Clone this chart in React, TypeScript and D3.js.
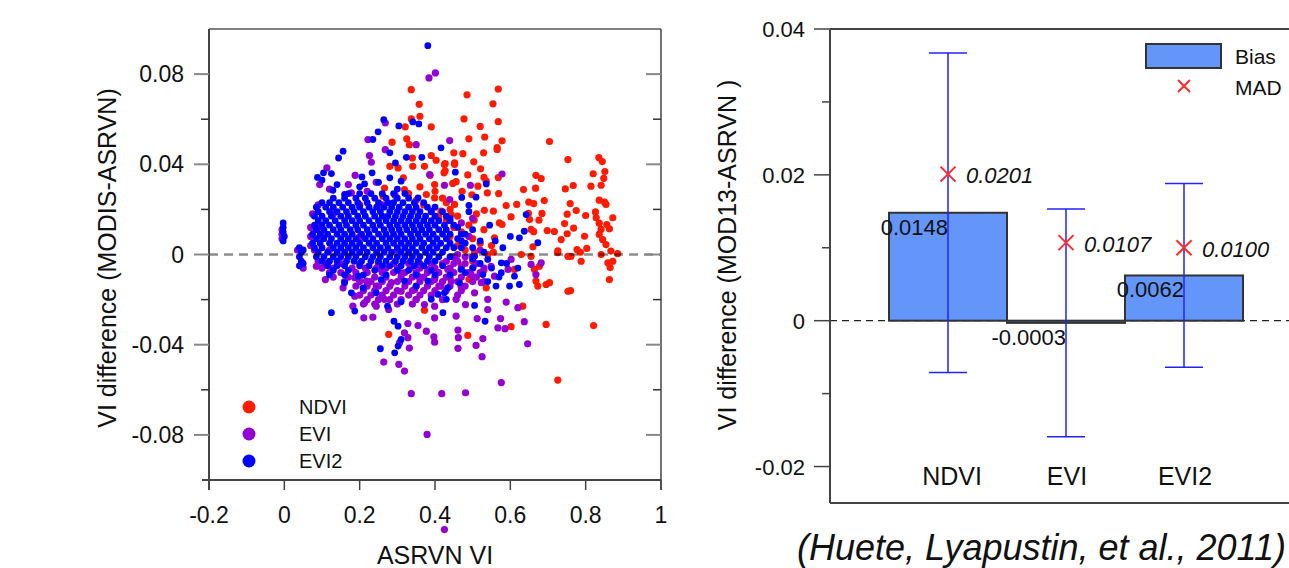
import React from 'react'
import * as d3 from 'd3'

// ---- scatter data (ASRVN VI vs MODIS-ASRVN difference) ----
const scatterXTicks = [-0.2, 0, 0.2, 0.4, 0.6, 0.8, 1]
const scatterXLabels = ['-0.2', '0', '0.2', '0.4', '0.6', '0.8', '1']
const scatterYTicks = [0.08, 0.04, 0, -0.04, -0.08]
const scatterYLabels = ['0.08', '0.04', '0', '-0.04', '-0.08']
const scatterYMinor = [0.06, 0.02, -0.02, -0.06]
const seriesNames = ['NDVI', 'EVI', 'EVI2']
const seriesColors = ['#ff1a00', '#9400d3', '#0000ff']

const ndviPts: [number, number][] = [
  [0.485,0.0708],[0.568,0.0734],[0.554,0.0668],[0.477,0.0601],[0.568,0.0589],[0.520,0.0568],[0.490,0.0513],[0.532,0.0521],
  [0.578,0.0504],[0.704,0.0501],[0.565,0.0474],[0.565,0.0466],[0.474,0.0447],[0.529,0.0451],[0.753,0.0421],[0.835,0.0430],
  [0.844,0.0412],[0.503,0.0411],[0.427,0.0403],[0.452,0.0400],[0.521,0.0380],[0.427,0.0371],[0.851,0.0368],[0.487,0.0353],
  [0.530,0.0342],[0.668,0.0351],[0.682,0.0337],[0.820,0.0358],[0.848,0.0338],[0.456,0.0323],[0.536,0.0325],[0.568,0.0341],
  [0.514,0.0303],[0.767,0.0306],[0.746,0.0291],[0.814,0.0303],[0.841,0.0307],[0.635,0.0288],[0.667,0.0294],[0.472,0.0280],
  [0.539,0.0273],[0.569,0.0270],[0.498,0.0265],[0.836,0.0241],[0.850,0.0232],[0.854,0.0222],[0.690,0.0239],[0.589,0.0217],
  [0.617,0.0222],[0.649,0.0232],[0.662,0.0226],[0.759,0.0226],[0.531,0.0196],[0.555,0.0192],[0.775,0.0195],[0.826,0.0189],
  [0.602,0.0167],[0.648,0.0182],[0.684,0.0182],[0.751,0.0179],[0.800,0.0173],[0.828,0.0163],[0.872,0.0163],[0.504,0.0152],
  [0.651,0.0155],[0.676,0.0152],[0.744,0.0137],[0.836,0.0139],[0.856,0.0133],[0.571,0.0140],[0.578,0.0133],[0.655,0.0111],
  [0.662,0.0101],[0.698,0.0106],[0.717,0.0102],[0.768,0.0117],[0.841,0.0111],[0.863,0.0114],[0.751,0.0092],[0.797,0.0081],
  [0.836,0.0089],[0.735,0.0066],[0.845,0.0066],[0.558,0.0074],[0.660,0.0034],[0.777,0.0022],[0.803,0.0027],[0.726,0.0016],
  [0.854,0.0044],[0.867,0.0015],[0.753,-0.0008],[0.786,0.0010],
  [0.337,0.0731],[0.358,0.0666],[0.360,0.0613],[0.337,0.0601],[0.321,0.0566],[0.390,0.0566],[0.286,0.0498],[0.325,0.0513],
  [0.332,0.0487],[0.340,0.0428],[0.390,0.0439],[0.403,0.0418],[0.450,0.0451],[0.452,0.0406],[0.425,0.0399],[0.280,0.0391],
  [0.302,0.0384],[0.341,0.0391],[0.372,0.0391],[0.316,0.0340],[0.387,0.0351],[0.399,0.0310],[0.424,0.0362],[0.447,0.0315],
  [0.266,0.0295],[0.262,0.0258],[0.319,0.0288],[0.377,0.0266],[0.399,0.0251],[0.430,0.0229],[0.452,0.0222],[0.416,0.0192],
  [0.443,0.0177],
  [0.277,-0.0354],[0.487,-0.0359],[0.602,-0.0320],[0.695,-0.0310],[0.821,-0.0315],[0.726,-0.0557],[0.633,-0.0229],[0.350,-0.0199],
  [0.372,-0.0247],[0.536,-0.0148],[0.753,-0.0163],[0.760,-0.0160],[0.695,-0.0133],[0.704,-0.0125],[0.673,-0.0140],[0.668,-0.0118],
  [0.863,-0.0111],[0.865,-0.0058],[0.788,-0.0030],[0.859,-0.0037],[0.872,-0.0030],[0.841,0.0000],[0.885,0.0004],[0.761,-0.0008],
  [0.726,0.0008],[0.629,0.0000],[0.655,-0.0008],[0.611,-0.0066],[0.664,-0.0066],[0.677,-0.0052],[0.540,0.0000],[0.555,0.0010],
  [0.505,0.0008],
  [0.33,0.027],[0.35,0.024],[0.37,0.022],[0.39,0.019],[0.41,0.017],[0.43,0.015],[0.45,0.012],[0.44,0.02],[0.46,0.017],
  [0.47,0.01],[0.49,0.013],[0.5,0.007],[0.46,0.004],[0.48,0.002],[0.52,0.005],[0.42,0.025],[0.4,0.028],[0.36,0.03],
  [0.44,0.008],[0.51,0.018],[0.53,0.011],[0.55,0.004],[0.5,-0.003],[0.47,-0.005],[0.53,-0.007],[0.44,-0.01],[0.49,-0.011],
]

const eviPts: [number, number][] = [
  [0.401,0.0805],[0.384,0.0783],[0.268,0.0584],[0.222,0.0510],[0.350,0.0487],[0.226,0.0439],[0.268,0.0465],[0.439,0.0505],
  [0.231,0.0409],[0.113,0.0384],[0.188,0.0351],[0.244,0.0320],[0.386,0.0354],[0.094,0.0310],[0.178,0.0273],[0.294,0.0263],
  [0.439,0.0244],[0.578,0.0357],[0.425,0.0307],[0.494,0.0307],
  [0.109,-0.0111],[0.156,-0.0148],[0.187,-0.0185],[0.213,-0.0214],[0.182,-0.0229],[0.211,-0.0281],[0.235,-0.0278],[0.244,-0.0229],
  [0.277,-0.0244],[0.266,-0.0199],[0.328,-0.0306],[0.355,-0.0315],[0.377,-0.0340],[0.319,-0.0347],[0.328,-0.0369],[0.306,-0.0391],
  [0.332,-0.0415],[0.397,-0.0365],[0.399,-0.0389],[0.461,-0.0335],[0.462,-0.0369],[0.461,-0.0416],[0.509,-0.0403],[0.527,-0.0373],
  [0.525,-0.0453],[0.567,-0.0325],[0.586,-0.0329],[0.574,-0.0284],[0.637,-0.0298],[0.646,-0.0396],[0.264,-0.0477],[0.304,-0.0487],
  [0.319,-0.0517],[0.576,-0.0568],[0.337,-0.0617],[0.418,-0.0617],[0.481,-0.0613],[0.399,-0.0281],[0.456,-0.0273],[0.512,-0.0284],
  [0.540,-0.0244],[0.456,-0.0199],[0.505,-0.0170],[0.540,-0.0199],[0.589,-0.0211],[0.620,-0.0236],[0.481,-0.0222],[0.399,-0.0229],
  [0.372,-0.0222],[0.346,-0.0155],[0.310,-0.0163],[0.416,-0.0140],[0.469,-0.0140],[0.523,-0.0125],[0.558,-0.0096],[0.594,-0.0066],
  [0.655,-0.0044],[0.682,-0.0037],[0.668,-0.0089],[0.244,-0.0140],[0.284,-0.0125],[0.218,-0.0118],[0.187,-0.0103],[0.355,-0.0096],
  [0.399,-0.0111],[0.443,-0.0118],[0.496,-0.0089],[0.434,-0.0066],[0.381,-0.0066],[0.310,-0.0081],[0.257,-0.0066],[0.602,-0.0022],
  [0.549,-0.0052],[0.085,-0.0052],
  [0.379,-0.0798],[0.425,-0.122],[-0.006,0.009],[-0.006,0.011],[-0.006,0.007],[0.035,0.002],[0.05,-0.006],
  [0.47,0.014],[0.49,0.008],[0.46,0.0],[0.52,0.002],[0.5,0.016],
  [0.12,0.029],[0.17,0.031],[0.22,0.028],
]

// dense EVI rows: [y, x values]
const eviCoreRows: [number, number[]][] = [
  [0.022, [0.09, 0.2, 0.26]],
  [0.018, [0.075, 0.13]],
  [0.012, [0.07, 0.09]],
  [0.008, [0.07, 0.1, 0.2]],
  [0.004, [0.07]],
  [0.002, [0.08, 0.12, 0.3]],
  [-0.001, [0.45, 0.48, 0.5]],
  [-0.003, [0.09, 0.43, 0.46]],
  [-0.004, [0.11, 0.15, 0.2, 0.25, 0.29, 0.33, 0.36, 0.39, 0.42, 0.45, 0.48, 0.51]],
  [-0.006, [0.1, 0.13, 0.18, 0.215, 0.245, 0.27, 0.3, 0.335, 0.36, 0.4, 0.44, 0.47, 0.5, 0.53]],
  [-0.008, [0.12, 0.15, 0.19, 0.22, 0.26, 0.29, 0.32, 0.35, 0.38, 0.41, 0.45, 0.49, 0.52]],
  [-0.010, [0.13, 0.17, 0.2, 0.24, 0.27, 0.31, 0.34, 0.37, 0.4, 0.43, 0.47, 0.51]],
  [-0.012, [0.16, 0.2, 0.23, 0.26, 0.3, 0.33, 0.36, 0.39, 0.42, 0.46, 0.5, 0.53]],
  [-0.014, [0.19, 0.22, 0.25, 0.28, 0.32, 0.35, 0.38, 0.41, 0.44, 0.48]],
  [-0.016, [0.21, 0.24, 0.27, 0.3, 0.34, 0.37, 0.4, 0.43, 0.47]],
  [-0.018, [0.2, 0.23, 0.26, 0.29, 0.33, 0.36, 0.39, 0.46]],
  [-0.020, [0.22, 0.25, 0.28, 0.31, 0.35, 0.42]],
  [-0.022, [0.21, 0.24, 0.3, 0.34]],
]

const evi2Pts: [number, number][] = [
  [0.381,0.0926],[0.264,0.0598],[0.304,0.0570],[0.341,0.0588],[0.357,0.0579],[0.249,0.0544],[0.235,0.0510],[0.156,0.0458],
  [0.144,0.0428],[0.280,0.0451],[0.324,0.0431],[0.365,0.0431],[0.416,0.0473],[0.295,0.0406],[0.104,0.0362],[0.088,0.0342],
  [0.125,0.0359],[0.206,0.0344],[0.233,0.0362],[0.213,0.0313],[0.310,0.0325],[0.129,0.0285],[0.160,0.0266],[0.355,0.0251],
  [0.454,0.0365],[0.536,0.0313],[0.509,0.0254],[0.471,0.0253],[0.490,0.0218],[0.642,0.0177],[0.637,0.0103],[0.624,0.0074],
  [0.673,0.0052],
  [0.125,-0.0258],[0.187,-0.0251],[0.291,-0.0296],[0.302,-0.0318],[0.310,-0.0377],[0.302,-0.0406],[0.293,-0.0436],[0.255,-0.0418],
  [0.421,-0.0258],[0.505,-0.0226],[0.533,-0.0296],[0.310,-0.0210],[0.274,-0.0229],[0.390,-0.0199],[0.430,-0.0199],[0.408,-0.0177],
  [0.178,-0.0170],[0.209,-0.0148],[0.244,-0.0170],[0.350,-0.0140],[0.434,-0.0148],[0.465,-0.0125],[0.562,-0.0140],[0.598,-0.0140],
  [0.624,-0.0133],[0.611,-0.0096],[0.576,-0.0081],[0.527,-0.0089],[0.501,-0.0059],[0.469,-0.0066],[0.576,-0.0037],[0.540,-0.0022],
  [0.505,-0.0008],[0.196,-0.0096],[0.257,-0.0111],[0.319,-0.0118],[0.381,-0.0118],[0.425,-0.0170],[0.160,-0.0125],
  [-0.003,0.014],[-0.003,0.012],[-0.003,0.010],[0.0,0.008],[-0.003,0.006],[0.04,0.003],[0.045,0.001],[0.04,-0.001],
  [0.045,-0.003],[0.04,-0.005],[0.05,0.002],[0.05,-0.004],
  [0.44,0.016],[0.46,0.012],[0.48,0.009],[0.5,0.011],[0.52,0.006],[0.47,0.006],[0.45,0.003],[0.5,0.003],[0.53,0.001],
  [0.56,0.006],[0.58,0.003],[0.6,0.008],[0.49,0.019],[0.545,0.013],
  [0.1,0.033],[0.14,0.031],[0.2,0.030],[0.25,0.032],[0.28,0.034],[0.3,0.029],
  [0.5,-0.002],[0.52,-0.004],[0.55,-0.006],[0.57,-0.01],[0.59,-0.004],[0.62,-0.006],[0.48,-0.008],[0.54,-0.012],
]

// dense EVI2 rows: [y, x values]
const evi2CoreRows: [number, number[]][] = [
  [0.027, [0.17, 0.2, 0.23, 0.26, 0.29, 0.32]],
  [0.025, [0.13, 0.16, 0.19, 0.215, 0.24, 0.27, 0.3, 0.33]],
  [0.023, [0.1, 0.12, 0.145, 0.17, 0.195, 0.22, 0.25, 0.275, 0.29, 0.315, 0.345, 0.37]],
  [0.021, [0.085, 0.11, 0.13, 0.155, 0.18, 0.2, 0.225, 0.245, 0.265, 0.285, 0.305, 0.33, 0.35, 0.38, 0.4]],
  [0.019, [0.09, 0.12, 0.14, 0.165, 0.185, 0.21, 0.235, 0.255, 0.28, 0.3, 0.32, 0.34, 0.36, 0.39, 0.42]],
  [0.017, [0.08, 0.1, 0.125, 0.15, 0.17, 0.195, 0.215, 0.24, 0.26, 0.275, 0.295, 0.315, 0.335, 0.355, 0.375, 0.4, 0.43]],
  [0.015, [0.09, 0.11, 0.135, 0.16, 0.18, 0.2, 0.225, 0.25, 0.27, 0.29, 0.31, 0.33, 0.35, 0.37, 0.39, 0.41, 0.44]],
  [0.013, [0.08, 0.1, 0.12, 0.145, 0.165, 0.19, 0.21, 0.235, 0.255, 0.28, 0.3, 0.32, 0.34, 0.36, 0.38, 0.4, 0.425, 0.45]],
  [0.011, [0.085, 0.105, 0.13, 0.15, 0.175, 0.195, 0.22, 0.24, 0.265, 0.285, 0.305, 0.325, 0.345, 0.365, 0.385, 0.41, 0.43]],
  [0.009, [0.075, 0.095, 0.115, 0.14, 0.16, 0.18, 0.205, 0.225, 0.25, 0.27, 0.29, 0.31, 0.335, 0.355, 0.375, 0.395, 0.42, 0.44, 0.47]],
  [0.007, [0.085, 0.105, 0.125, 0.15, 0.17, 0.19, 0.215, 0.235, 0.26, 0.28, 0.3, 0.32, 0.34, 0.36, 0.385, 0.405, 0.43, 0.46]],
  [0.005, [0.075, 0.095, 0.12, 0.14, 0.16, 0.18, 0.2, 0.225, 0.245, 0.27, 0.29, 0.31, 0.33, 0.35, 0.37, 0.395, 0.415, 0.44, 0.48]],
  [0.003, [0.08, 0.1, 0.13, 0.15, 0.17, 0.19, 0.21, 0.235, 0.255, 0.275, 0.3, 0.32, 0.34, 0.365, 0.385, 0.405, 0.43, 0.47]],
  [0.001, [0.09, 0.115, 0.14, 0.16, 0.18, 0.2, 0.22, 0.245, 0.265, 0.285, 0.31, 0.33, 0.35, 0.375, 0.395, 0.42]],
  [-0.001, [0.085, 0.105, 0.13, 0.15, 0.17, 0.19, 0.215, 0.235, 0.255, 0.28, 0.3, 0.32, 0.34, 0.36, 0.385, 0.41, 0.44]],
  [-0.003, [0.1, 0.12, 0.14, 0.165, 0.185, 0.205, 0.23, 0.25, 0.27, 0.295, 0.315, 0.335, 0.355, 0.38, 0.4]],
  [-0.005, [0.115, 0.14, 0.16, 0.2, 0.225, 0.26, 0.28, 0.31, 0.345, 0.37, 0.42]],
  [-0.007, [0.13, 0.17, 0.24, 0.3, 0.33, 0.39]],
  [-0.009, [0.12, 0.16, 0.21, 0.27, 0.35, 0.4, 0.44]],
]

// ---- bar chart data (MOD13 - ASRVN) ----
const categories = ['NDVI', 'EVI', 'EVI2']
const bias = [0.0148, -0.0003, 0.0062]
const biasLabels = ['0.0148', '-0.0003', '0.0062']
const mad = [0.0201, 0.0107, 0.0100]
const madLabels = ['0.0201', '0.0107', '0.0100']
const errHigh = [0.0367, 0.0153, 0.0188]
const errLow = [-0.0071, -0.0159, -0.0064]
const barYTicks = [0.04, 0.02, 0, -0.02]
const barYLabels = ['0.04', '0.02', '0', '-0.02']
const barYMinor = [0.03, 0.01, -0.01]

const FONT = 'Liberation Sans, Arial, Helvetica, sans-serif'

const rowsToPts = (rows: [number, number[]][]) =>
  rows.flatMap(([y, xs]) => xs.map(x => [x, y] as [number, number]))

function Scatter() {
  const x = d3.scaleLinear().domain([-0.2, 1]).range([209, 661])
  const y = d3.scaleLinear().domain([-0.1, 0.1]).range([480, 29])
  const series = [
    { pts: ndviPts, color: seriesColors[0], r: 3.6 },
    { pts: eviPts.concat(rowsToPts(eviCoreRows)), color: seriesColors[1], r: 3.6 },
    { pts: evi2Pts.concat(rowsToPts(evi2CoreRows)), color: seriesColors[2], r: 3.4 },
  ]
  return (
    <g fontFamily={FONT}>
      {series.map((s, i) => (
        <g key={i} fill={s.color}>
          {s.pts.map((p, j) => <circle key={j} cx={x(p[0])} cy={y(p[1])} r={s.r} />)}
        </g>
      ))}
      <line x1={x(-0.2)} x2={x(1)} y1={y(0)} y2={y(0)} stroke="#000" strokeOpacity={0.45}
        strokeWidth={2.5} strokeDasharray="9,6" />
      {/* frame */}
      <line x1={202} x2={661} y1={480} y2={480} stroke="#444" strokeWidth={2} />
      <line x1={209} x2={209} y1={29} y2={490} stroke="#444" strokeWidth={2} />
      <line x1={209} x2={661} y1={29} y2={29} stroke="#555" strokeWidth={1.5} />
      <line x1={661} x2={661} y1={29} y2={490} stroke="#444" strokeWidth={1.5} />
      {scatterYTicks.map((t, i) => (
        <g key={i}>
          <line x1={194} x2={209} y1={y(t)} y2={y(t)} stroke="#888" strokeWidth={2} />
          <line x1={646} x2={661} y1={y(t)} y2={y(t)} stroke="#888" strokeWidth={2} />
          <text x={184} y={y(t) + 8} textAnchor="end" fontSize={23} fill="#111">{scatterYLabels[i]}</text>
        </g>
      ))}
      {scatterYMinor.map((t, i) => (
        <g key={i}>
          <line x1={201} x2={209} y1={y(t)} y2={y(t)} stroke="#333" strokeWidth={1.5} />
          <line x1={653} x2={661} y1={y(t)} y2={y(t)} stroke="#333" strokeWidth={1.5} />
        </g>
      ))}
      {scatterXTicks.map((t, i) => (
        <g key={i}>
          <line x1={x(t)} x2={x(t)} y1={480} y2={490} stroke="#444" strokeWidth={1.5} />
          <text x={x(t)} y={523} textAnchor="middle" fontSize={23} fill="#111">{scatterXLabels[i]}</text>
        </g>
      ))}
      <text x={435} y={564} textAnchor="middle" fontSize={25} fill="#111">ASRVN VI</text>
      <text transform="translate(116,258) rotate(-90)" textAnchor="middle" fontSize={25} fill="#111">
        VI difference (MODIS-ASRVN)
      </text>
      {seriesNames.map((n, i) => (
        <g key={n}>
          <circle cx={249} cy={407 + i * 27} r={6.5} fill={seriesColors[i]} />
          <text x={299} y={414 + i * 27} fontSize={20} fill="#111">{n}</text>
        </g>
      ))}
    </g>
  )
}

function Cross({ cx, cy, s }: { cx: number; cy: number; s: number }) {
  return (
    <path d={`M${cx - s},${cy - s}L${cx + s},${cy + s}M${cx - s},${cy + s}L${cx + s},${cy - s}`}
      stroke="#ff2a2a" strokeWidth={2} fill="none" />
  )
}

function Bars() {
  const x = d3.scaleBand().domain(categories).range([830, 1302]).paddingInner(0).paddingOuter(0.5)
  const y = d3.scaleLinear().domain([-0.025, 0.04]).range([503, 29])
  const bw = x.bandwidth()
  return (
    <g fontFamily={FONT}>
      <line x1={830} x2={1289} y1={y(0)} y2={y(0)} stroke="#222" strokeWidth={1.3} strokeDasharray="7,5" />
      {categories.map((c, i) => {
        const x0 = x(c) as number
        const cx = x0 + bw / 2
        const top = Math.min(y(bias[i]), y(0))
        const bot = Math.max(y(bias[i]), y(0))
        return (
          <g key={c}>
            <rect x={x0} y={top} width={bw} height={Math.max(bot - top, 1.5)} fill="#6396f8"
              stroke="#333" strokeWidth={2} />
            <text x={cx} y={y(bias[i]) + 22} textAnchor="end" fontSize={22} fill="#111">{biasLabels[i]}</text>
            <g stroke="#2222ff" strokeWidth={1.5}>
              <line x1={cx} x2={cx} y1={y(errHigh[i])} y2={y(errLow[i])} />
              <line x1={cx - 19} x2={cx + 19} y1={y(errHigh[i])} y2={y(errHigh[i])} />
              <line x1={cx - 19} x2={cx + 19} y1={y(errLow[i])} y2={y(errLow[i])} />
            </g>
            <Cross cx={cx} cy={y(mad[i])} s={7.5} />
            <text x={cx + 18} y={y(mad[i]) + 9} fontSize={22} fontStyle="italic" fill="#111">{madLabels[i]}</text>
            <text x={cx + (i === 0 ? 4 : 1)} y={485} textAnchor="middle" fontSize={25} fill="#111">{c}</text>
          </g>
        )
      })}
      {/* frame */}
      <line x1={830} x2={830} y1={29} y2={503} stroke="#444" strokeWidth={2} />
      <line x1={830} x2={1289} y1={503} y2={503} stroke="#444" strokeWidth={2} />
      <line x1={830} x2={1289} y1={29} y2={29} stroke="#444" strokeWidth={2} />
      {barYTicks.map((t, i) => (
        <g key={i}>
          <line x1={814} x2={830} y1={y(t)} y2={y(t)} stroke="#444" strokeWidth={1.5} />
          <text x={805} y={y(t) + 8} textAnchor="end" fontSize={22} fill="#111">{barYLabels[i]}</text>
        </g>
      ))}
      {barYMinor.map((t, i) => (
        <line key={i} x1={822} x2={830} y1={y(t)} y2={y(t)} stroke="#444" strokeWidth={1.5} />
      ))}
      <text transform="translate(736,255) rotate(-90)" textAnchor="middle" fontSize={25} fill="#111">
        VI difference (MOD13-ASRVN )
      </text>
      {/* legend */}
      <rect x={1146} y={44} width={75} height={24} fill="#6396f8" stroke="#333" strokeWidth={2} />
      <text x={1235} y={64} fontSize={21} fill="#111">Bias</text>
      <Cross cx={1184} cy={86} s={6} />
      <text x={1235} y={95} fontSize={21} fill="#111">MAD</text>
      <text x={797} y={560} fontSize={36} fontStyle="italic" fill="#111">(Huete, Lyapustin, et al., 2011)</text>
    </g>
  )
}

export default function App() {
  return (
    <svg width={1289} height={568} style={{ position: 'absolute', left: 0, top: 0, background: '#fff' }}>
      <Scatter />
      <Bars />
    </svg>
  )
}
